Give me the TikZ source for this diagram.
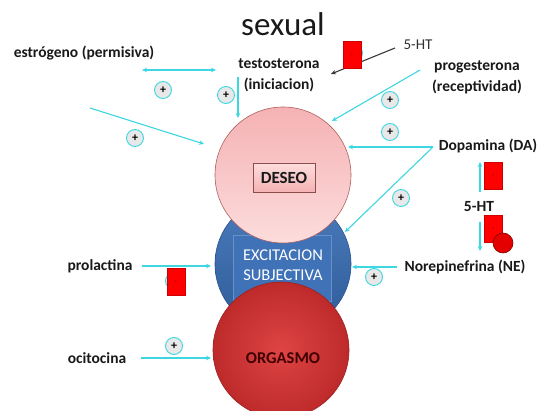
\documentclass[tikz,border=0pt]{standalone}
\usepackage{fontspec}
\setmainfont{Carlito}
\usetikzlibrary{arrows.meta}
\definecolor{cy}{RGB}{60,215,225}
\definecolor{pinkA}{RGB}{245,178,180}
\definecolor{pinkB}{RGB}{252,220,220}
\definecolor{pinkE}{RGB}{175,95,95}
\definecolor{blueA}{RGB}{55,108,180}
\definecolor{blueE}{RGB}{40,80,140}
\definecolor{redA}{RGB}{222,68,68}
\definecolor{redB}{RGB}{190,42,42}
\definecolor{txt}{RGB}{25,25,25}
\begin{document}
\begin{tikzpicture}[x=1pt,y=-1pt,
  lbl/.style={font=\fontsize{15.5}{18}\selectfont\bfseries, text=txt, inner sep=0},
  arr/.style={draw=cy, line width=1.1pt, -{Stealth[length=5pt,width=4.5pt]}},
  darr/.style={draw=cy, line width=1.1pt, {Stealth[length=5pt,width=4.5pt]}-{Stealth[length=5pt,width=4.5pt]}},
  plus/.style={circle, draw=cy, line width=0.9pt, fill=gray!18, minimum size=17pt, inner sep=0, font=\fontsize{12}{12}\selectfont\bfseries, text=black},
  neg/.style={rectangle, fill=red, draw=red!80!black, line width=0.3pt, minimum width=18pt, minimum height=27pt, inner sep=0, font=\fontsize{7}{7}\selectfont, text=red!45!black},
  bigc/.style={circle, minimum size=136pt, inner sep=0}]
\useasboundingbox (0,0) rectangle (541,411);
\fill[white] (0,0) rectangle (541,411);

% circles
\node[bigc, draw=blueE, line width=0.6pt, top color=blueA!90!white, bottom color=blueA!85!black] (exc) at (283,264) {};
\node[rectangle, minimum width=98pt, minimum height=66pt, draw=blueA!75!white, line width=0.4pt, fill=blueA!96!white] (excbox) at (282,268) {};
\node[bigc, draw=pinkE, line width=0.6pt, top color=pinkA, bottom color=pinkB] (deseo) at (283,175) {};
\node[bigc, draw=redB!80!black, line width=0.6pt, inner color=redA, outer color=redB] (orgasmo) at (281,350) {};

\node[rectangle, minimum width=62pt, minimum height=29pt, draw=pinkE!80!black, line width=0.8pt, top color=pinkB, bottom color=pinkA, font=\fontsize{17}{19}\selectfont\bfseries, text=txt] (deseotxt) at (284,178) {DESEO};
\node[font=\fontsize{16.5}{19}\selectfont, text=white, align=center, inner sep=0] (exctxt) at (283,265) {EXCITACION\\[1pt]SUBJECTIVA};
\node[font=\fontsize{16.5}{19}\selectfont\bfseries, text=red!25!black, inner sep=0] (orgtxt) at (283,358) {ORGASMO};

% title
\node[font=\fontsize{33}{36}\selectfont, text=txt, inner sep=0] (title) at (283,24) {sexual};

% labels
\node[lbl] (estr) at (84,53) {estrógeno (permisiva)};
\node[lbl, align=center] (testo) at (279,75) {testosterona\\[3pt](iniciacion)};
\node[font=\fontsize{15}{18}\selectfont, text=txt!90, inner sep=0] (ht1) at (418,45) {5-HT};
\node[lbl, align=center] (proge) at (477,77) {progesterona\\[3pt](receptividad)};
\node[lbl] (dopa) at (488,146) {Dopamina (DA)};
\node[lbl] (ht2) at (479,207) {5-HT};
\node[lbl] (nore) at (465,267) {Norepinefrina (NE)};
\node[lbl] (prol) at (100,266) {prolactina};
\node[lbl] (oci) at (97,358) {ocitocina};

% coordinates
\coordinate (e1) at (142,70);
\coordinate (e2) at (216,70);
\coordinate (t1) at (238,77);
\coordinate (t2) at (238,118);
\coordinate (l1) at (90,108);
\coordinate (l2) at (204,144);
\coordinate (p1) at (420,70);
\coordinate (p2) at (332,121);
\coordinate (h1) at (395,48);
\coordinate (h2) at (331,74);
\coordinate (d0) at (433,147);
\coordinate (d1) at (348,147);
\coordinate (d2) at (345,232);
\coordinate (u1) at (480,192);
\coordinate (u2) at (480,162);
\coordinate (w1) at (480,222);
\coordinate (w2) at (480,251);
\coordinate (n1) at (397,267);
\coordinate (n2) at (352,267);
\coordinate (r1) at (142,266);
\coordinate (r2) at (211,266);
\coordinate (o1) at (141,358);
\coordinate (o2) at (211,358);

% arrows
\draw[darr] (e1) -- (e2);
\draw[arr] (t1) -- (t2);
\draw[arr] (l1) -- (l2);
\draw[arr] (p1) -- (p2);
\draw[draw=gray!45!black, line width=1.1pt, -{Stealth[length=5pt,width=4.5pt]}] (h1) -- (h2);
\draw[arr] (d0) -- (d1);
\draw[arr] (d0) -- (d2);
\draw[arr] (u1) -- (u2);
\draw[arr] (w1) -- (w2);
\draw[arr] (n1) -- (n2);
\draw[arr] (r1) -- (r2);
\draw[arr] (o1) -- (o2);

% plus signs
\node[plus] (pl1) at (163,90) {+};
\node[plus] (pl2) at (226,95) {+};
\node[plus] (pl3) at (390,100) {+};
\node[plus] (pl4) at (390,132) {+};
\node[plus] (pl5) at (135,138) {+};
\node[plus] (pl6) at (401,198) {+};
\node[plus] (pl7) at (374,277) {+};
\node[plus] (pl8) at (174,346) {+};
\node[plus] (pl9) at (354,53) {};
\node[plus] (pl10) at (174,281) {};

% negative blocks
\node[neg] (n_top) at (352,55) {-};
\node[neg] (n_da) at (493,176) {-};
\node[neg] (n_ne) at (493,229) {-};
\node[neg] (n_pr) at (176,282) {-};
\node[circle, minimum size=20pt, inner sep=0, fill=red!90!black, draw=red!50!black, line width=0.6pt] (dot) at (503,243) {};
\end{tikzpicture}
\end{document}
